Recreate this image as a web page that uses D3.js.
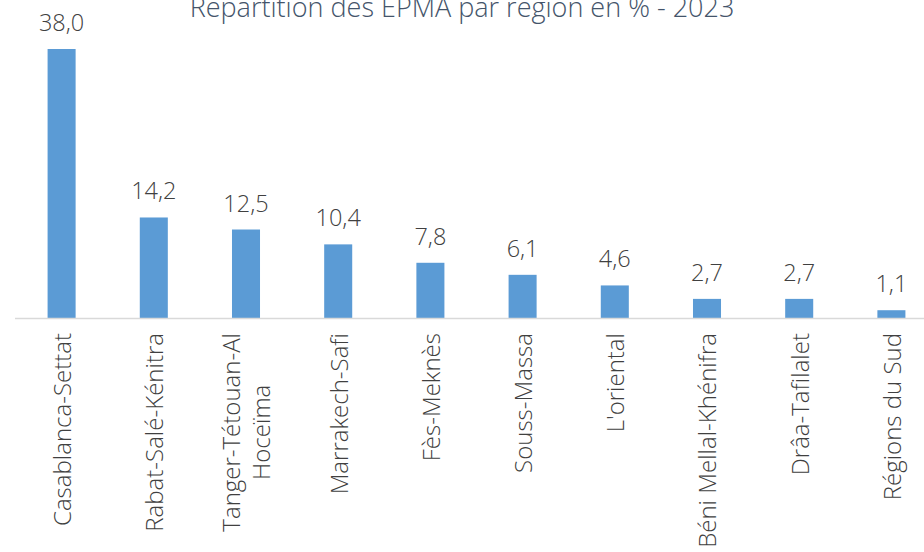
<!DOCTYPE html>
<html>
<head>
<meta charset="utf-8">
<script src="https://cdn.jsdelivr.net/npm/d3@7/dist/d3.min.js"></script>
<style>
  html, body { margin: 0; padding: 0; background: #fff; overflow: hidden; }
  svg { display: block; }
</style>
</head>
<body>
<svg id="chart" width="924" height="552"></svg>
<script>
const title = "Répartition des EPMA par région en % - 2023";
const categories = [
  ["Casablanca-Settat"],
  ["Rabat-Salé-Kénitra"],
  ["Tanger-Tétouan-Al", "Hoceïma"],
  ["Marrakech-Safi"],
  ["Fès-Meknès"],
  ["Souss-Massa"],
  ["L'oriental"],
  ["Béni Mellal-Khénifra"],
  ["Drâa-Tafilalet"],
  ["Régions du Sud"]
];
const values = [38.0, 14.2, 12.5, 10.4, 7.8, 6.1, 4.6, 2.7, 2.7, 1.1];
const valueLabels = ["38,0", "14,2", "12,5", "10,4", "7,8", "6,1", "4,6", "2,7", "2,7", "1,1"];

const svg = d3.select("#chart");
const keys = categories.map(c => c.join(" "));

const x = d3.scaleBand().domain(keys).range([15.5, 937.5]).paddingInner(0.696).paddingOuter(0.348);
const y = d3.scaleLinear().domain([0, 38]).range([318, 49]);

const fontFam = "'Open Sans', 'Noto Sans', sans-serif";

// title
svg.append("text")
  .attr("x", 462).attr("y", 17)
  .attr("text-anchor", "middle")
  .attr("font-family", fontFam)
  .attr("font-weight", 300)
  .attr("font-size", 27)
  .attr("fill", "#44546A")
  .text(title);

// bars
svg.selectAll("rect.bar").data(values).join("rect")
  .attr("class", "bar")
  .attr("x", (d, i) => x(keys[i]))
  .attr("width", x.bandwidth())
  .attr("y", d => y(d))
  .attr("height", d => y(0) - y(d))
  .attr("fill", "#5B9BD5");

// axis
const xAxis = d3.axisBottom(x).tickSize(0).tickFormat("");
const ax = svg.append("g").attr("transform", `translate(0,${y(0) + 0.5})`).call(xAxis);
ax.select(".domain").attr("d", "M15,0H924").attr("stroke", "#D9D9D9").attr("stroke-width", 1.5);

// value labels
svg.selectAll("text.val").data(values).join("text")
  .attr("class", "val")
  .attr("x", (d, i) => x(keys[i]) + x.bandwidth() / 2)
  .attr("y", d => y(d) - 18)
  .attr("text-anchor", "middle")
  .attr("font-family", fontFam)
  .attr("font-weight", 300)
  .attr("font-size", 23.5)
  .attr("fill", "#404040")
  .text((d, i) => valueLabels[i]);

// category labels (rotated)
const lineH = 30;
const catG = svg.selectAll("g.cat").data(categories).join("g")
  .attr("class", "cat")
  .attr("transform", (d, i) => `translate(${x(keys[i]) + x.bandwidth() / 2 + 1},333) rotate(-90)`);

catG.each(function(lines) {
  const g = d3.select(this);
  const n = lines.length;
  const texts = g.selectAll("text").data(lines).join("text")
    .attr("font-family", fontFam)
    .attr("font-weight", 300)
    .attr("font-size", 24)
    .attr("fill", "#404040")
    .attr("dy", "0.35em")
    .attr("y", (d, j) => (j - (n - 1) / 2) * lineH)
    .text(d => d);
  const widths = texts.nodes().map(t => t.getComputedTextLength());
  const maxW = d3.max(widths);
  texts.attr("text-anchor", "middle").attr("x", -maxW / 2);
});
</script>
</body>
</html>
